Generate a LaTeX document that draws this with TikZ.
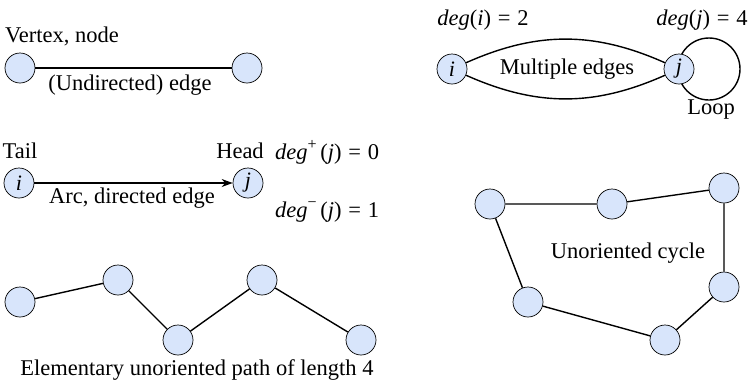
\documentclass[tikz,border=0pt]{standalone}
\usepackage{fontspec}
\setmainfont{Liberation Serif}
\usetikzlibrary{arrows.meta,backgrounds}
\definecolor{vfill}{RGB}{216,229,251}
\newcommand{\myeq}{\hspace{0.3em}=\hspace{0.3em}}
\newcommand{\mysup}[1]{\raisebox{0.45em}{\fontsize{16}{18}\selectfont #1}}
\tikzset{
  vtx/.style={circle,draw=black,line width=0.7pt,fill=vfill,minimum size=30pt,inner sep=0pt,font=\fontsize{22}{24}\selectfont\itshape},
  lbl/.style={inner sep=0pt,font=\fontsize{22.5}{25}\selectfont},
  edg/.style={line width=1.4pt,draw=black}
}
\begin{document}
\begin{tikzpicture}[x=1pt,y=-1pt]
\useasboundingbox (0,0) rectangle (755,389);
% --- undirected edge
\node[vtx] (a1) at (20,68) {};
\node[vtx] (a2) at (247,68) {};
\node[lbl,anchor=west] (vl) at (5,36) {Vertex, node};
\node[lbl] (el) at (130,85) {(Undirected) edge};
\draw[edg] (a1) -- (a2);
% --- multiple edges and loop
\node[vtx] (mi) at (452,69) {i};
\node[vtx] (mj) at (679,69) {j};
\node[lbl] (di) at (483,20) {\textit{deg}(\textit{i})\myeq 2};
\node[lbl] (dj) at (702,20) {\textit{deg}(\textit{j})\myeq 4};
\node[lbl] (ml) at (567,69) {Multiple edges};
\node[lbl] (ll) at (711,110) {Loop};
\draw[edg] (mi) to[bend left=24] (mj);
\draw[edg] (mi) to[bend right=24] (mj);
\begin{scope}[on background layer]
\draw[edg] (mj) ++(30,0) circle (31);
\end{scope}
% --- directed arc
\node[vtx] (ti) at (19,183) {i};
\node[vtx] (hj) at (248,183) {j};
\node[lbl] (tl) at (20,151) {Tail};
\node[lbl] (hl) at (240,151) {Head};
\node[lbl] (al) at (132,198) {Arc, directed edge};
\node[lbl,anchor=west] (dp) at (275,152) {\textit{deg}\mysup{+}\,(\textit{j})\myeq 0};
\node[lbl,anchor=west] (dm) at (275,212) {\textit{deg}\mysup{−}\,(\textit{j})\myeq 1};
\draw[edg,-{Stealth[length=11pt,width=8pt]}] (ti) -- (hj);
% --- path
\node[vtx] (p1) at (20,302) {};
\node[vtx] (p2) at (118,280) {};
\node[vtx] (p3) at (178,340) {};
\node[vtx] (p4) at (262,280) {};
\node[vtx] (p5) at (361,340) {};
\node[lbl] (pl) at (197,370) {Elementary unoriented path of length 4};
\draw[edg] (p1) -- (p2) -- (p3) -- (p4) -- (p5);
% --- cycle
\node[vtx] (c1) at (490,204) {};
\node[vtx] (c2) at (612,204) {};
\node[vtx] (c3) at (724,188) {};
\node[vtx] (c4) at (724,287) {};
\node[vtx] (c5) at (665,340) {};
\node[vtx] (c6) at (528,302) {};
\node[lbl] (cl) at (628,253) {Unoriented cycle};
\draw[edg] (c1) -- (c2) -- (c3) -- (c4) -- (c5) -- (c6) -- (c1);
\end{tikzpicture}
\end{document}
